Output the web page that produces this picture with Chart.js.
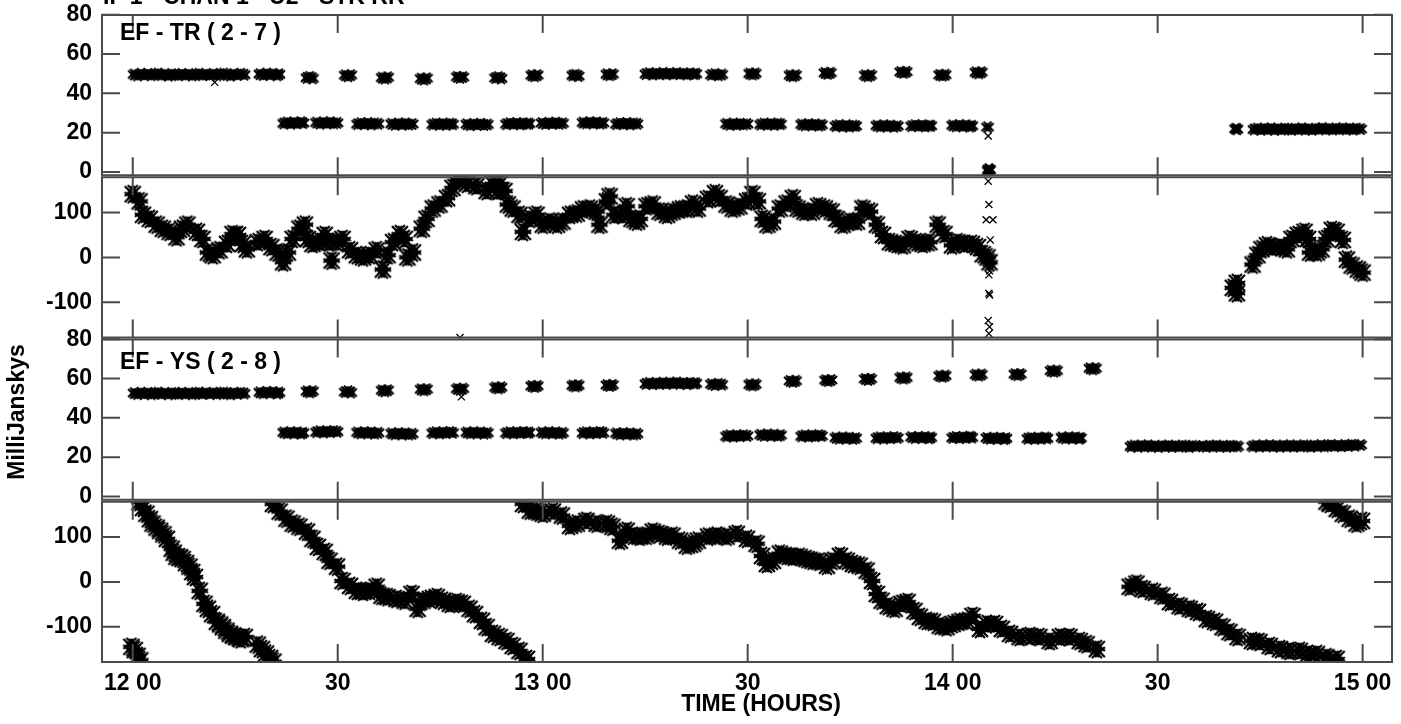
<!DOCTYPE html>
<html>
<head>
<meta charset="utf-8">
<script src="https://cdn.jsdelivr.net/npm/chart.js@4.4.1/dist/chart.umd.min.js"></script>
<style>
  html, body { margin: 0; padding: 0; background: #fff; }
</style>
</head>
<body>
<canvas id="myChart" width="1401" height="724"></canvas>
<script>
// times are minutes after 12 00 UT, amplitudes in mJy, phases in degrees
const timeTicks = [0, 30, 60, 90, 120, 150, 180];
const ampTicks = [0, 20, 40, 60, 80];
const phaseTicks = [-100, 0, 100];

const titleText = "IF 1 - CHAN 1 - U2 - STK RR";
const baselines = ["EF - TR ( 2 - 7 )", "EF - YS ( 2 - 8 )"];

// EF - TR amplitude, upper row (~49 mJy)
const trAmpHigh = [
  [0.2,49.6],[0.7,49.1],[1.2,50.0],[1.7,49.4],[2.2,49.8],[2.7,49.2],[3.2,49.7],[3.7,50.1],[4.2,49.3],[4.7,49.6],
  [5.2,49.0],[5.7,49.8],[6.2,49.5],[6.7,49.2],[7.2,49.9],[7.7,49.4],[8.2,49.7],[8.7,49.1],[9.2,49.6],[9.7,50.0],
  [10.2,49.3],[10.7,49.6],[11.3,49.4],[11.8,49.9],[12.3,49.2],[12.8,49.7],[13.3,50.1],[13.8,49.5],[14.3,49.0],
  [14.8,49.8],[15.3,49.4],[15.8,50.0],[16.3,49.5],
  [18.6,49.8],[19.1,49.3],[19.6,50.1],[20.1,49.5],[20.6,49.9],[21.1,49.2],[21.4,49.7],
  [25.5,47.9],[25.9,48.4],[26.3,47.6],
  [31.1,49.2],[31.5,48.7],[31.9,49.3],
  [36.5,48.0],[36.9,47.5],[37.3,48.2],
  [42.2,47.5],[42.6,47.0],[43.0,47.7],
  [47.5,48.4],[47.9,47.9],[48.3,48.3],
  [53.1,47.8],[53.5,48.3],[53.9,47.6],
  [58.4,49.2],[58.8,48.7],[59.2,49.3],
  [64.4,49.1],[64.8,49.5],[65.2,48.8],
  [69.4,49.7],[69.8,49.2],[70.2,49.8],
  [75.1,49.8],[75.6,50.3],[76.1,49.6],[76.6,50.1],[77.1,49.9],[77.6,50.4],[78.1,49.7],[78.6,50.2],
  [79.1,49.8],[79.6,50.3],[80.1,49.9],[80.6,50.1],[81.1,49.6],[81.6,50.2],[82.1,49.8],[82.4,50.0],
  [84.7,49.4],[85.2,49.8],[85.7,49.2],[86.2,49.6],
  [90.3,50.1],[90.7,49.6],[91.1,50.2],
  [96.2,49.2],[96.6,48.7],[97.0,49.3],
  [101.3,50.4],[101.7,49.9],[102.1,50.5],
  [107.2,49.2],[107.6,48.7],[108.0,49.3],
  [112.4,50.9],[112.8,50.4],[113.2,51.0],
  [118.1,49.4],[118.5,49.0],[118.9,49.5],
  [123.4,50.7],[123.8,50.2],[124.2,50.8]
];

// EF - TR amplitude, lower row (~24 mJy) and the late block
const trAmpLow = [
  [22.1,24.7],[22.6,25.2],[23.1,24.6],[23.6,25.1],[24.1,24.8],[24.6,25.3],[24.9,24.9],
  [26.9,25.1],[27.4,24.6],[27.9,25.2],[28.4,24.8],[28.9,25.3],[29.4,24.7],[29.9,25.0],
  [32.9,24.3],[33.4,24.8],[33.9,24.4],[34.4,24.9],[34.9,24.2],[35.4,24.7],[35.9,24.5],
  [37.9,24.5],[38.4,24.0],[38.9,24.6],[39.4,24.2],[39.9,24.7],[40.4,24.1],[40.9,24.4],
  [43.9,24.1],[44.4,24.6],[44.9,24.2],[45.4,24.5],[45.9,24.0],[46.4,24.6],[46.8,24.3],
  [48.9,24.3],[49.4,23.8],[49.9,24.4],[50.4,24.0],[50.9,24.5],[51.4,23.9],[51.9,24.2],
  [54.7,24.3],[55.2,24.8],[55.7,24.4],[56.2,24.9],[56.7,24.2],[57.2,24.7],[57.7,24.5],[58.0,24.6],
  [59.9,24.9],[60.4,24.4],[60.9,25.0],[61.4,24.6],[61.9,25.1],[62.4,24.5],[62.9,24.8],
  [65.9,25.1],[66.4,24.7],[66.9,25.3],[67.4,24.8],[67.9,25.2],[68.4,24.6],[68.8,25.0],
  [70.8,24.3],[71.3,24.8],[71.8,24.4],[72.3,24.9],[72.8,24.2],[73.3,24.7],[73.8,24.5],
  [86.9,24.5],[87.4,24.0],[87.9,24.6],[88.4,24.1],[88.9,24.5],[89.4,24.2],[89.9,24.4],
  [91.9,24.1],[92.4,24.6],[92.9,24.2],[93.4,24.5],[93.9,24.0],[94.4,24.6],[94.8,24.3],
  [97.9,24.2],[98.4,23.7],[98.9,24.3],[99.4,23.8],[99.9,24.2],[100.4,23.6],[100.8,24.0],
  [102.9,23.3],[103.4,23.8],[103.9,23.2],[104.4,23.7],[104.9,23.1],[105.4,23.6],[105.8,23.4],
  [108.9,23.6],[109.4,23.1],[109.9,23.7],[110.4,23.2],[110.9,23.6],[111.4,23.0],[111.9,23.4],
  [114.0,23.3],[114.5,23.8],[115.0,23.4],[115.5,23.7],[116.0,23.2],[116.5,23.6],[116.8,23.5],
  [120.0,23.7],[120.5,23.2],[121.0,23.8],[121.5,23.3],[122.0,23.7],[122.5,23.1],[122.8,23.5],
  [125.1,22.8],[125.3,1.5],[125.2,0.6],[125.4,1.0],
  [161.4,22.0],[161.6,21.7],
  [164.1,21.6],[164.6,22.1],[165.1,21.5],[165.6,22.0],[166.1,21.7],[166.6,22.2],[167.1,21.4],[167.6,21.9],
  [168.1,21.6],[168.6,22.1],[169.1,21.8],[169.6,21.5],[170.1,22.0],[170.6,21.7],[171.1,22.2],[171.6,21.6],
  [172.1,21.9],[172.6,21.5],[173.1,22.0],[173.6,21.8],[174.1,22.3],[174.6,21.7],[175.1,22.0],[175.6,21.6],
  [176.1,22.1],[176.6,21.8],[177.1,22.2],[177.6,21.7],[178.1,22.0],[178.6,21.6],[179.1,22.1],[179.7,21.8]
];

// single stray amplitude points (drawn thin)
const trAmpStray = [[12.0,45.6],[125.2,18.3]];

const trPhase = [
  [0.0,141],[1.0,125],[1.5,95],[2.5,86],[3.5,73],[4.4,64],[5.4,57],[6.4,45],[7.2,64],[8.0,73],
  [9.4,57],[10.2,41],[11.0,11],[11.7,5],[12.7,16],[13.8,30],[14.6,52],[15.4,50],[16.1,30],[16.7,18],
  [18.3,34],[19.3,41],[20.3,23],[21.2,11],[22.0,-11],[22.7,11],[23.4,41],[24.4,64],[25.2,73],[25.6,41],
  [26.3,30],[27.4,34],[28.1,50],[28.8,34],[29.1,-7],[29.9,34],[30.7,41],[31.8,16],[32.8,5],[33.7,0],
  [34.7,5],[35.7,16],[36.6,-27],[37.3,5],[38.1,34],[39.1,52],[39.8,41],[40.2,0],[41.0,11],
  [42.3,64],[43.0,86],[43.9,109],[44.9,118],[46.0,132],[46.8,155],[47.6,175],[48.9,164],[50.3,159],
  [51.8,148],[52.7,164],[53.4,148],[53.7,164],[54.4,148],[54.9,118],[55.6,109],[56.6,95],[57.1,57],
  [58.1,86],[59.1,95],[60.0,73],[61.0,80],[62.1,73],[62.9,80],[64.0,95],[65.0,98],[65.9,107],[66.9,109],
  [67.9,102],[68.3,73],[69.4,125],[69.8,136],[70.5,95],[71.6,95],[72.3,114],[73.0,86],[73.8,80],[74.2,86],
  [75.2,114],[76.1,118],[77.1,102],[78.2,95],[79.0,102],[80.1,107],[81.1,109],[82.0,120],[82.7,109],
  [84.2,130],[85.2,143],[85.9,132],[86.9,118],[87.8,109],[88.8,114],[89.9,125],[90.7,141],[91.5,125],
  [92.2,86],[92.9,73],[93.7,80],[94.7,109],[95.7,120],[96.6,132],[97.3,109],[98.3,102],[99.4,102],
  [100.3,114],[101.3,109],[102.3,102],[103.0,86],[103.9,73],[104.9,80],[106.0,80],
  [106.8,109],[107.9,102],[108.9,73],[109.8,50],[110.8,34],[111.8,30],[112.7,27],[113.7,41],[114.7,34],
  [115.6,30],[116.6,34],
  [117.8,73],[118.8,52],[119.9,27],[120.7,34],[121.8,30],[122.8,30],[123.7,23],[124.4,7],[125.1,0],[125.4,-11],
  [161.0,-68],[161.6,-57],[161.6,-80],
  [163.9,-16],[164.6,5],[165.2,18],[166.0,27],[166.8,23],[167.9,23],[168.9,18],[169.6,41],[170.5,50],
  [171.5,57],[172.0,41],[172.3,11],[173.3,11],[174.0,18],[174.7,41],[175.5,61],[176.2,57],[177.1,39],
  [177.7,-5],[178.4,-18],[179.3,-27],[180.0,-34]
];

const trPhaseStray = [
  [47.9,-179],[125.2,170],[125.3,118],[124.9,84],[125.9,84],[125.5,39],[125.3,-4],[125.4,-30],
  [125.3,-39],[125.3,-80],[125.4,-84],[125.2,-141],[125.4,-155],[125.3,-170]
];

// EF - YS amplitude, upper row (~52-65 mJy)
const ysAmpHigh = [
  [0.2,52.6],[0.7,52.1],[1.2,52.8],[1.7,52.3],[2.2,52.7],[2.7,52.0],[3.2,52.5],[3.7,52.9],[4.2,52.2],[4.7,52.6],
  [5.2,52.0],[5.7,52.7],[6.2,52.4],[6.7,52.1],[7.2,52.8],[7.7,52.3],[8.2,52.6],[8.7,52.0],[9.2,52.5],[9.7,52.9],
  [10.2,52.2],[10.7,52.6],[11.3,52.3],[11.8,52.8],[12.3,52.1],[12.8,52.6],[13.3,52.9],[13.8,52.4],[14.3,52.0],
  [14.8,52.7],[15.3,52.3],[15.8,52.8],[16.3,52.4],
  [18.6,53.0],[19.1,52.5],[19.6,53.2],[20.1,52.7],[20.6,53.1],[21.1,52.4],[21.4,52.9],
  [25.5,53.5],[25.9,53.0],[26.3,53.6],
  [31.1,53.1],[31.5,53.6],[31.9,52.9],
  [36.5,54.0],[36.9,53.5],[37.3,54.1],
  [42.2,54.5],[42.6,54.0],[43.0,54.6],
  [47.5,54.8],[47.9,54.3],[48.3,54.9],
  [53.1,55.5],[53.5,55.0],[53.9,55.6],
  [58.4,56.2],[58.8,55.7],[59.2,56.3],
  [64.4,56.5],[64.8,56.0],[65.2,56.6],
  [69.4,56.7],[69.8,56.2],[70.2,56.8],
  [75.1,57.3],[75.6,57.8],[76.1,57.2],[76.6,57.7],[77.1,57.4],[77.6,57.9],[78.1,57.3],[78.6,57.8],
  [79.1,57.5],[79.6,58.0],[80.1,57.4],[80.6,57.7],[81.1,57.2],[81.6,57.8],[82.1,57.5],[82.4,57.6],
  [84.7,57.2],[85.2,56.7],[85.7,57.3],[86.2,56.9],
  [90.3,57.0],[90.7,56.5],[91.1,57.1],
  [96.2,58.8],[96.6,58.3],[97.0,58.9],
  [101.4,59.2],[101.8,58.7],[102.2,59.3],
  [107.2,59.8],[107.6,59.3],[108.0,59.9],
  [112.4,60.5],[112.8,60.0],[113.2,60.6],
  [118.1,61.4],[118.5,60.9],[118.9,61.5],
  [123.4,62.0],[123.8,61.5],[124.2,62.1],
  [129.1,62.2],[129.5,61.7],[129.9,62.3],
  [134.4,64.0],[134.8,63.5],[135.2,64.1],
  [140.1,65.2],[140.5,64.7],[140.9,65.3]
];

// EF - YS amplitude, lower row (~32-25 mJy)
const ysAmpLow = [
  [22.1,32.6],[22.6,32.1],[23.1,32.7],[23.6,32.2],[24.1,32.6],[24.6,32.0],[24.9,32.4],
  [26.9,32.7],[27.4,33.2],[27.9,32.6],[28.4,33.1],[28.9,32.8],[29.4,33.3],[29.9,32.9],
  [32.9,32.6],[33.4,32.1],[33.9,32.7],[34.4,32.2],[34.9,32.6],[35.4,32.0],[35.9,32.4],
  [37.9,32.1],[38.4,31.6],[38.9,32.2],[39.4,31.7],[39.9,32.1],[40.4,31.5],[40.9,31.9],
  [43.9,32.2],[44.4,32.7],[44.9,32.1],[45.4,32.6],[45.9,32.3],[46.4,32.8],[46.8,32.4],
  [48.9,32.6],[49.4,32.1],[49.9,32.7],[50.4,32.2],[50.9,32.6],[51.4,32.0],[51.9,32.4],
  [54.7,32.2],[55.2,32.7],[55.7,32.1],[56.2,32.6],[56.7,32.3],[57.2,32.8],[57.7,32.4],[58.0,32.5],
  [59.9,32.6],[60.4,32.1],[60.9,32.7],[61.4,32.2],[61.9,32.6],[62.4,32.0],[62.9,32.4],
  [65.9,32.2],[66.4,32.7],[66.9,32.1],[67.4,32.6],[67.9,32.3],[68.4,32.8],[68.8,32.4],
  [70.8,32.1],[71.3,31.6],[71.8,32.2],[72.3,31.7],[72.8,32.1],[73.3,31.5],[73.8,31.9],
  [86.9,30.6],[87.4,31.1],[87.9,30.5],[88.4,31.0],[88.9,30.7],[89.4,31.2],[89.9,30.8],
  [91.9,31.4],[92.4,30.9],[92.9,31.5],[93.4,31.0],[93.9,31.4],[94.4,30.8],[94.8,31.2],
  [97.9,30.6],[98.4,31.1],[98.9,30.5],[99.4,31.0],[99.9,30.7],[100.4,31.2],[100.8,30.8],
  [102.9,29.9],[103.4,29.4],[103.9,30.0],[104.4,29.5],[104.9,29.9],[105.4,29.3],[105.8,29.7],
  [108.9,29.6],[109.4,30.1],[109.9,29.5],[110.4,30.0],[110.9,29.7],[111.4,30.2],[111.9,29.8],
  [114.0,30.2],[114.5,29.7],[115.0,30.3],[115.5,29.8],[116.0,30.2],[116.5,29.6],[116.8,30.0],
  [120.0,29.8],[120.5,30.3],[121.0,29.7],[121.5,30.2],[122.0,29.9],[122.5,30.4],[122.8,30.0],
  [125.0,29.8],[125.5,29.3],[126.0,29.9],[126.5,29.4],[127.0,29.8],[127.5,29.2],[127.8,29.6],
  [131.0,29.4],[131.5,29.9],[132.0,29.3],[132.5,29.8],[133.0,29.5],[133.5,30.0],[133.8,29.6],
  [136.0,30.0],[136.5,29.5],[137.0,30.1],[137.5,29.6],[138.0,30.0],[138.5,29.4],[138.7,29.8],
  [146.1,25.4],[146.6,25.9],[147.1,25.3],[147.6,25.8],[148.1,25.5],[148.6,26.0],[149.1,25.4],[149.6,25.7],
  [150.1,25.2],[150.6,25.8],[151.1,25.5],[151.6,25.9],[152.1,25.3],[152.6,25.7],[153.1,25.4],[153.6,25.9],
  [154.1,25.6],[154.6,25.2],[155.1,25.8],[155.6,25.5],[156.6,25.7],[157.1,25.3],[157.6,25.8],[158.1,25.5],
  [158.6,25.9],[159.1,25.4],[159.6,25.7],[160.1,25.3],[160.6,25.8],[161.1,25.6],[161.7,25.5],
  [163.9,25.5],[164.4,26.0],[164.9,25.4],[165.4,25.9],[165.9,25.6],[166.4,26.1],[166.9,25.5],[167.4,25.8],
  [167.9,25.3],[168.4,25.9],[168.9,25.6],[169.4,26.0],[169.9,25.4],[170.4,25.8],[170.9,25.5],[171.4,26.0],
  [171.9,25.7],[172.4,25.3],[172.9,25.9],[173.4,25.6],[173.9,26.1],[174.4,25.5],[174.9,25.8],[175.4,26.2],
  [175.9,25.7],[176.4,26.0],[176.9,25.6],[177.4,26.1],[177.9,25.8],[178.4,26.3],[178.9,25.9],[179.7,26.2]
];

const ysAmpStray = [[48.1,50.7]];

const ysPhase = [
  [-0.2,-145],[0.3,-152],[0.7,-165],[1.1,-175],
  [1.0,178],[1.5,165],[2.0,152],[2.5,140],[2.9,130],[3.5,121],[4.0,114],[4.5,106],[5.0,96],[5.7,74],
  [6.0,65],[6.4,56],[6.9,55],[7.3,51],[7.8,42],[8.3,34],[8.7,22],[9.1,11],[9.8,-20],[10.5,-49],[11.0,-60],
  [11.6,-72],[12.3,-89],[12.8,-95],[13.2,-101],[13.7,-109],[14.2,-116],[14.7,-120],[15.2,-123],[15.8,-128],[16.4,-123],
  [18.3,-140],[18.9,-150],[19.5,-160],[20.1,-170],[20.6,-178],
  [20.5,174],[21.5,157],[22.5,141],[23.4,130],[24.4,123],[25.5,112],[26.3,96],[27.1,78],[28.1,67],[28.8,47],
  [29.9,34],[30.7,2],[31.8,-9],[32.8,-20],[33.7,-22],[34.7,-20],[35.7,-11],[36.4,-31],[37.3,-34],[38.6,-38],
  [39.8,-42],[40.8,-27],[41.7,-60],[42.4,-42],[43.5,-38],[44.5,-34],[45.4,-42],[46.4,-49],[47.4,-45],
  [48.3,-49],[49.3,-60],[50.1,-72],[51.1,-87],[51.8,-101],[52.7,-116],[53.7,-123],[54.7,-132],[55.6,-143],
  [56.6,-154],[57.7,-172],
  [57.1,174],[58.1,159],[59.1,157],[60.0,152],[61.5,157],[62.8,148],[64.0,125],[65.0,130],[66.4,136],
  [67.9,130],[69.4,130],[70.2,123],[71.3,92],[72.3,114],[73.2,103],[74.2,101],[75.2,103],[76.1,112],
  [77.1,107],[78.2,101],[79.0,103],[80.1,92],[81.1,81],[82.0,85],[82.7,92],
  [84.2,101],[85.5,103],[86.9,101],[88.4,107],[89.9,96],[91.3,85],[92.1,58],[92.8,40],[93.7,47],[94.7,63],
  [95.7,58],[96.6,56],[97.6,56],[98.6,51],[99.5,47],[100.5,45],[101.6,36],[102.4,47],[103.5,58],[104.5,47],
  [105.4,40],[106.4,36],[107.4,25],[108.2,2],[108.9,-27],[109.6,-42],[110.5,-54],[111.5,-60],[112.5,-49],
  [113.4,-45],[114.4,-65],[115.2,-78],[116.2,-87],[117.1,-89],[118.1,-98],[119.1,-101],[120.0,-94],
  [121.0,-89],[122.1,-87],[122.9,-76],[124.0,-105],[125.0,-94],[126.2,-94],[127.2,-105],[128.4,-116],
  [129.8,-123],[131.3,-121],[132.7,-123],[134.2,-132],[135.7,-123],[137.1,-123],[138.6,-132],[139.6,-139],
  [141.1,-150],
  [145.9,-11],[146.9,-4],[147.8,-16],[149.3,-22],[150.7,-31],[151.8,-45],[153.2,-54],[154.7,-60],[155.9,-67],
  [157.2,-83],[158.4,-89],[159.5,-101],[160.5,-112],[161.7,-123],
  [163.8,-132],[164.9,-134],[166.4,-143],[167.9,-150],[169.3,-154],[170.8,-154],[172.0,-161],[173.3,-161],
  [174.7,-168],[176.2,-172],
  [174.7,179],[175.2,174],[176.2,163],[177.1,152],[178.1,141],[179.1,130],[179.9,136]
];

const font = { family: "'Liberation Sans', Arial, sans-serif", size: 23, weight: 'bold', lineHeight: 1 };

// a clump of small x's, used as the marker so dense runs read as a fuzzy band
function makeClump(size, arm, width, offsets) {
  const c = document.createElement('canvas');
  c.width = size;
  c.height = size;
  const g = c.getContext('2d');
  const m = size / 2;
  g.strokeStyle = '#000';
  g.lineWidth = width;
  offsets.forEach(([dx, dy]) => {
    g.beginPath();
    g.moveTo(m + dx - arm, m + dy - arm);
    g.lineTo(m + dx + arm, m + dy + arm);
    g.moveTo(m + dx - arm, m + dy + arm);
    g.lineTo(m + dx + arm, m + dy - arm);
    g.stroke();
  });
  return c;
}

const ampClump = makeClump(20, 4, 2, [[-2, 0], [2, 0], [0, -1.5], [0, 1.5]]);
const phaseClump = makeClump(26, 5, 2.2, [[0, 0], [-3, -3], [3, 3], [-3, 3], [3, -3], [0, -4], [0, 4]]);

const toXY = (pairs) => pairs.map(([t, v]) => ({ x: t, y: v }));

const marks = (data, yAxisID, style, radius, width) => ({
  data: toXY(data),
  yAxisID: yAxisID,
  pointStyle: style,
  pointRadius: radius,
  pointBorderWidth: width,
  borderColor: '#000',
  backgroundColor: '#000'
});

const yScale = (min, max, ticks, weight) => ({
  type: 'linear',
  min: min,
  max: max,
  position: 'left',
  stack: 'panels',
  stackWeight: 1,
  weight: weight,
  grid: { display: false, drawTicks: false },
  border: { display: false },
  ticks: { font: font, color: '#000', padding: 10, autoSkip: false, callback: (v) => String(v) },
  afterBuildTicks: (s) => { s.ticks = ticks.map((v) => ({ value: v })); },
  afterFit: (s) => { s.width = 102; s.paddingTop = 0; s.paddingBottom = 0; }
});

const framePlugin = {
  id: 'frames',
  afterDraw(chart) {
    const { ctx, scales } = chart;
    const x = scales.x;
    ctx.save();
    ctx.strokeStyle = '#4a4a4a';
    ctx.lineWidth = 2;
    ['yA1', 'yP1', 'yA2', 'yP2'].forEach((id) => {
      const y = scales[id];
      const top = y.top + 1;
      const bottom = y.bottom - 1;
      ctx.strokeRect(x.left, top, x.right - x.left, bottom - top);
      ctx.beginPath();
      y.ticks.forEach((t) => {
        const py = y.getPixelForValue(t.value);
        ctx.moveTo(x.left, py);
        ctx.lineTo(x.left + 18, py);
        ctx.moveTo(x.right, py);
        ctx.lineTo(x.right - 18, py);
      });
      x.ticks.forEach((t) => {
        const px = x.getPixelForValue(t.value);
        ctx.moveTo(px, top);
        ctx.lineTo(px, top + 18);
        ctx.moveTo(px, bottom);
        ctx.lineTo(px, bottom - 18);
      });
      ctx.stroke();
    });

    ctx.fillStyle = '#000';
    ctx.font = "bold 23px 'Liberation Sans', Arial, sans-serif";
    ctx.textAlign = 'left';
    ctx.textBaseline = 'alphabetic';
    ctx.fillText(titleText, x.left + 1, 4);
    ctx.textBaseline = 'middle';
    ctx.fillText(baselines[0], x.left + 18, scales.yA1.top + 20);
    ctx.fillText(baselines[1], x.left + 18, scales.yA2.top + 24);

    ctx.textAlign = 'center';
    ctx.fillText('TIME (HOURS)', 761, 705);

    ctx.translate(18, 412);
    ctx.rotate(-Math.PI / 2);
    ctx.fillText('MilliJanskys', 0, 0);
    ctx.restore();
  }
};

const ctx = document.getElementById('myChart');

const myChart = new Chart(ctx, {
  type: 'scatter',
  data: {
    datasets: [
      marks(trAmpHigh, 'yA1', ampClump, 6, 1),
      marks(trAmpLow, 'yA1', ampClump, 6, 1),
      marks(trAmpStray, 'yA1', 'crossRot', 5, 1.3),
      marks(trPhase, 'yP1', phaseClump, 9, 1),
      marks(trPhaseStray, 'yP1', 'crossRot', 5, 1.3),
      marks(ysAmpHigh, 'yA2', ampClump, 6, 1),
      marks(ysAmpLow, 'yA2', ampClump, 6, 1),
      marks(ysAmpStray, 'yA2', 'crossRot', 5, 1.3),
      marks(ysPhase, 'yP2', phaseClump, 9, 1)
    ]
  },
  options: {
    responsive: false,
    animation: false,
    devicePixelRatio: 1,
    layout: { autoPadding: false, padding: { left: 0, right: 9, top: 14, bottom: 0 } },
    plugins: { legend: { display: false }, tooltip: { enabled: false } },
    scales: {
      x: {
        type: 'linear',
        min: -4.5,
        max: 184.3,
        position: 'bottom',
        grid: { display: false, drawTicks: false },
        border: { display: false },
        ticks: {
          font: font,
          color: '#000',
          padding: 9,
          maxRotation: 0,
          autoSkip: false,
          callback: (v) => (v % 60 === 0 ? (12 + v / 60) + ' 00' : '30')
        },
        afterBuildTicks: (s) => { s.ticks = timeTicks.map((v) => ({ value: v })); },
        afterFit: (s) => { s.height = 61; s.paddingLeft = 0; s.paddingRight = 0; }
      },
      yP2: yScale(-181, 181, phaseTicks, 1),
      yA2: yScale(-2.2, 80.4, ampTicks, 2),
      yP1: yScale(-181, 181, phaseTicks, 3),
      yA1: yScale(-2.2, 80.4, ampTicks, 4)
    }
  },
  plugins: [framePlugin]
});
</script>
</body>
</html>
